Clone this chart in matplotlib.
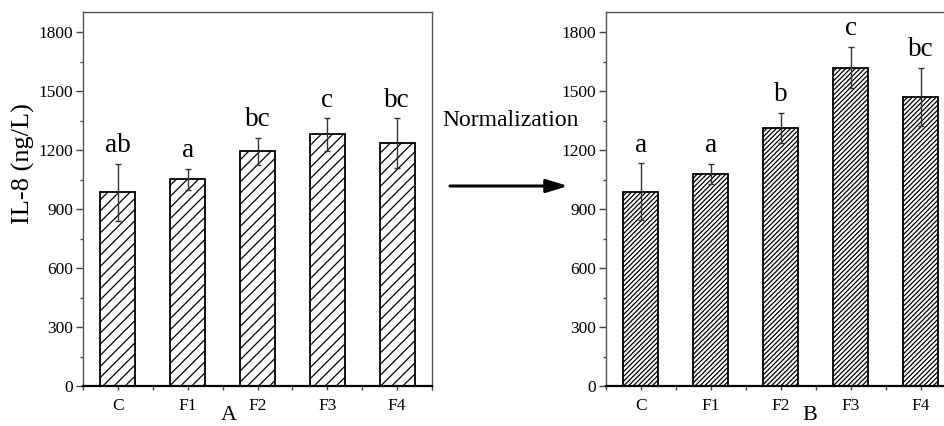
import matplotlib
matplotlib.use("Agg")
import matplotlib.pyplot as plt
from matplotlib.ticker import MultipleLocator, FixedLocator

plt.rcParams['font.family'] = ['Liberation Serif', 'DejaVu Serif']
plt.rcParams['hatch.linewidth'] = 0.9

categories = ["C", "F1", "F2", "F3", "F4"]
values_a = [985, 1051, 1193, 1280, 1236]
errors_a = [145, 53, 70, 83, 125]
letters_a = ["ab", "a", "bc", "c", "bc"]
values_b = [988, 1080, 1313, 1620, 1471]
errors_b = [145, 51, 76, 105, 149]
letters_b = ["a", "a", "b", "c", "bc"]
yticks = [0, 300, 600, 900, 1200, 1500, 1800]

W, H = 944, 426
fig = plt.figure(figsize=(W / 100, H / 100), dpi=100)

def make_axes(left_px, right_px, vals, errs, letters, hatch, xlabel, xlabel_px):
    ax = fig.add_axes([left_px / W, 1 - 386 / H, (right_px - left_px) / W, (386 - 12.5) / H])
    x = list(range(1, len(categories) + 1))
    ax.bar(x, vals, width=0.5, color="white", edgecolor="black", linewidth=1.3,
           hatch=hatch, zorder=2)
    ax.errorbar(x, vals, yerr=errs, fmt="none", ecolor="#333333", elinewidth=1.0,
                capsize=2.2, capthick=1.0, zorder=3)
    for xi, v, e, lab in zip(x, vals, errs, letters):
        ax.annotate(lab, (xi, v + e), xytext=(0, 4), textcoords="offset points",
                    ha="center", va="bottom", fontsize=19.5)
    ax.set_xlim(0.5, 5.5)
    ax.set_ylim(0, 1900)
    ax.set_xticks(x)
    ax.set_xticklabels(categories, fontsize=12.5)
    ax.xaxis.set_minor_locator(FixedLocator([0.5, 1.5, 2.5, 3.5, 4.5, 5.5]))
    ax.set_yticks(yticks)
    ax.set_yticklabels([str(t) for t in yticks], fontsize=12.5)
    ax.yaxis.set_minor_locator(MultipleLocator(150))
    ax.tick_params(axis="y", which="major", direction="out", length=5, width=1.0,
                   color="#444444", pad=2)
    ax.tick_params(axis="y", which="minor", direction="out", length=2.5, width=1.0,
                   color="#444444")
    ax.tick_params(axis="x", which="both", direction="out", length=3, width=1.0,
                   color="#444444", pad=6)
    for s in ["left", "top", "right"]:
        ax.spines[s].set_color("#555555")
        ax.spines[s].set_linewidth(1.0)
    ax.spines["bottom"].set_color("black")
    ax.spines["bottom"].set_linewidth(1.6)
    fig.text(xlabel_px / W, 1 - 416 / H, xlabel, ha="center", va="center", fontsize=16)
    return ax

ax1 = make_axes(83, 432, values_a, errors_a, letters_a, "///", "A", 229)
ax2 = make_axes(606, 955.5, values_b, errors_b, letters_b, "///////", "B", 810)

fig.text(23 / W, 1 - 164 / H, "IL-8 (ng/L)", rotation=90, ha="center", va="center",
         fontsize=19)
fig.text(511 / W, 1 - 121 / H, "Normalization", ha="center", va="center", fontsize=17)
fig.add_artist(matplotlib.patches.FancyArrowPatch(
    (450 / W, 1 - 186 / H), (568 / W, 1 - 186 / H), transform=fig.transFigure,
    arrowstyle="-|>,head_length=5.2,head_width=1.6", linewidth=2.2, color="black",
    mutation_scale=2.5, shrinkA=0, shrinkB=0))

fig.savefig("out.png", dpi=100)
